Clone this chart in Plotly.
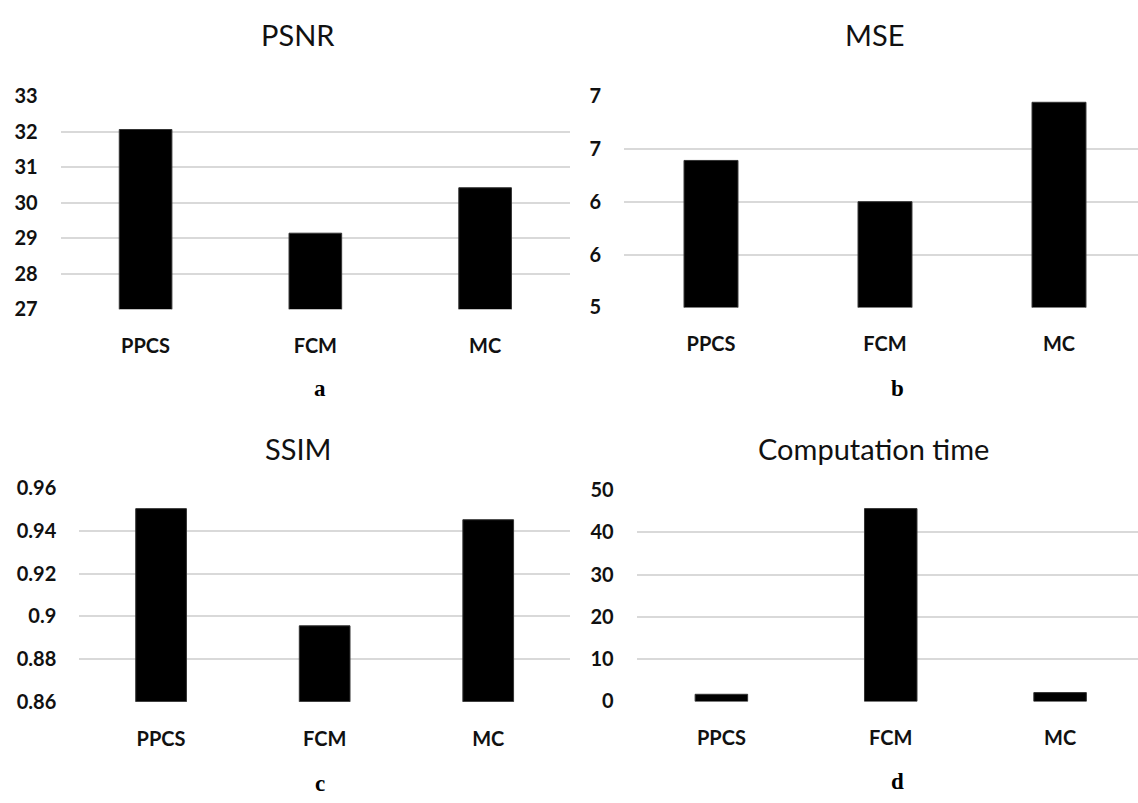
import plotly.graph_objects as go

categories = ["PPCS", "FCM", "MC"]
psnr = [32.06, 29.14, 30.42]
mse = [6.39, 6.0, 6.94]
ssim = [0.9505, 0.8956, 0.9453]
comp_time = [1.7, 45.6, 2.1]

titles = ["PSNR", "MSE", "SSIM", "Computation time"]
letters = ["a", "b", "c", "d"]

psnr_ticks = [27, 28, 29, 30, 31, 32, 33]
mse_ticks = [5, 5.5, 6, 6.5, 7]
mse_ticktext = ["5", "6", "6", "7", "7"]
ssim_ticks = [0.86, 0.88, 0.90, 0.92, 0.94, 0.96]
ssim_ticktext = ["0.86", "0.88", "0.9", "0.92", "0.94", "0.96"]
time_ticks = [0, 10, 20, 30, 40, 50]

W, H = 1138, 803

def px_x(v):
    return v / W

def px_y(v):
    return 1 - v / H

fig = go.Figure()
series = [psnr, mse, ssim, comp_time]
for i, s in enumerate(series):
    n = "" if i == 0 else str(i + 1)
    fig.add_trace(go.Bar(x=categories, y=s, xaxis="x" + n, yaxis="y" + n,
                         marker=dict(color="black", line=dict(color="#333333", width=1)),
                         width=0.31, showlegend=False))

tick_font = dict(family="Lato, 'Open Sans', sans-serif", size=20, color="#111111", weight="bold")
grid = "#d9d9d9"

panels = [
    dict(xd=[60.7, 570], yd=[305.3, 85.7], yr=[27, 33], tv=psnr_ticks, tt=[str(t) for t in psnr_ticks], xr=[-0.5, 2.5]),
    dict(xd=[624, 1138], yd=[303.5, 85.5], yr=[5, 7], tv=mse_ticks, tt=mse_ticktext, xr=[-0.5, 2.454]),
    dict(xd=[79.3, 570], yd=[710, 490], yr=[0.86, 0.96], tv=ssim_ticks, tt=ssim_ticktext, xr=[-0.5, 2.5]),
    dict(xd=[636.7, 1138], yd=[709.7, 491.7], yr=[0, 50], tv=time_ticks, tt=[str(t) for t in time_ticks], xr=[-0.5, 2.46]),
]

layout = dict(width=W, height=H, margin=dict(l=0, r=0, t=0, b=0),
              paper_bgcolor="white", plot_bgcolor="white", bargap=0.7)
for i, p in enumerate(panels):
    n = "" if i == 0 else str(i + 1)
    layout["xaxis" + n] = dict(domain=[px_x(p["xd"][0]), px_x(p["xd"][1])], anchor="y" + n,
                               range=p["xr"], showgrid=False, zeroline=False, showline=False,
                               ticks="", tickfont=tick_font, ticklabelstandoff=23,
                               fixedrange=True)
    layout["yaxis" + n] = dict(domain=[px_y(p["yd"][0]), px_y(p["yd"][1])], anchor="x" + n,
                               range=p["yr"], tickvals=p["tv"], ticktext=p["tt"],
                               showgrid=True, gridcolor=grid, gridwidth=1.5, zeroline=False,
                               showline=False, ticks="", tickfont=tick_font,
                               ticklabelstandoff=22, fixedrange=True)

title_font = dict(family="Lato, 'Open Sans', sans-serif", size=29, color="#111111")
letter_font = dict(family="'Liberation Serif', 'Times New Roman', serif", size=23, color="black")
title_pos = [(298, 22), (875, 22), (298, 449), (873, 449)]
letter_pos = [(320, 387), (897, 387), (320, 794), (897, 792)]
ann = []
for i in range(4):
    ann.append(dict(text=titles[i], x=px_x(title_pos[i][0]), y=px_y(title_pos[i][1]),
                    xref="paper", yref="paper", showarrow=False, font=title_font,
                    xanchor="center", yanchor="middle"))
    ann.append(dict(text="<b>" + letters[i] + "</b>", x=px_x(letter_pos[i][0]), y=px_y(letter_pos[i][1]),
                    xref="paper", yref="paper", showarrow=False, font=letter_font,
                    xanchor="center", yanchor="middle"))
layout["annotations"] = ann
fig.update_layout(**layout)
fig.write_html("out.html")
